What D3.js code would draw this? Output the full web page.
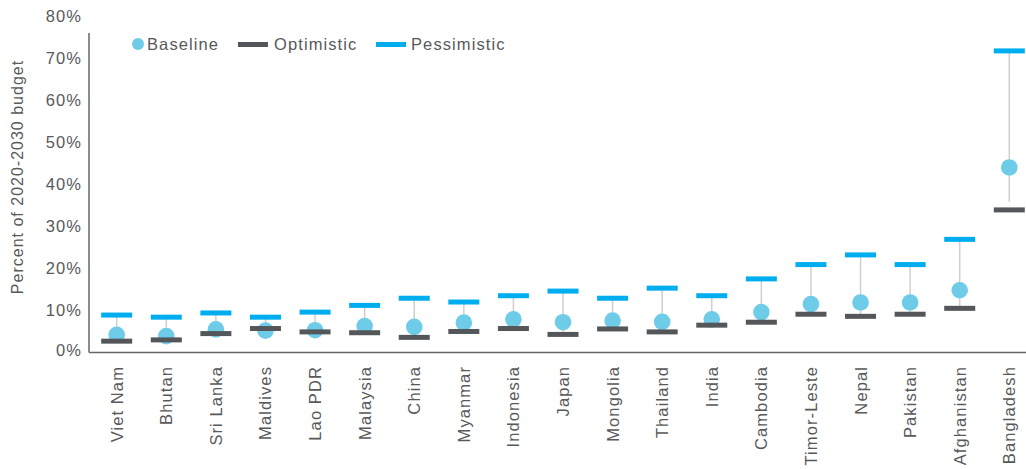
<!DOCTYPE html>
<html><head><meta charset="utf-8">
<script src="https://cdn.jsdelivr.net/npm/d3@7/dist/d3.min.js"></script>
<style>body{margin:0;background:#fff}svg{display:block}text{font-family:"Liberation Sans",Arial,sans-serif;fill:#58595b}</style>
</head><body><svg id="c" width="1026" height="469"></svg>
<script>
const countries = ["Viet Nam","Bhutan","Sri Lanka","Maldives","Lao PDR","Malaysia","China","Myanmar","Indonesia","Japan","Mongolia","Thailand","India","Cambodia","Timor-Leste","Nepal","Pakistan","Afghanistan","Bangladesh"];
const baseline    = [4.2,3.9,5.5,5.2,5.3,6.3,6.1,7.1,7.9,7.2,7.6,7.3,7.9,9.6,11.5,11.9,11.9,14.8,44.0];
const optimistic  = [2.7,3.0,4.5,5.7,4.9,4.7,3.6,5.0,5.7,4.3,5.6,4.9,6.5,7.2,9.1,8.6,9.1,10.5,33.9];
const pessimistic = [8.9,8.4,9.4,8.4,9.6,11.2,12.9,12.0,13.5,14.6,12.9,15.3,13.5,17.5,20.9,23.2,20.9,26.9,71.7];
const whiskerLow  = [2.7,3.0,4.5,5.7,4.9,4.7,3.6,5.0,5.7,4.3,5.6,4.9,6.5,7.2,9.1,8.6,9.1,10.5,35.8];
const yTicks = [0,10,20,30,40,50,60,70,80];

const svg = d3.select("#c");
const x = d3.scalePoint().domain(countries).range([116.7,1009.3]);
const y = d3.scaleLinear().domain([0,80]).range([352.5,16]);
const colBase="#6ecce9", colOpt="#54575a", colPes="#00aeef";
const capW=31, capH=5;
const FS="16.5px", LS="1.1px";

// axes lines
svg.append("line").attr("x1",89).attr("x2",89).attr("y1",33).attr("y2",y(0)).attr("stroke","#666").attr("stroke-width",1.5);
svg.append("line").attr("x1",89).attr("x2",1026).attr("y1",y(0)).attr("y2",y(0)).attr("stroke","#666").attr("stroke-width",1.5);

// y tick labels
svg.append("g").selectAll("text").data(yTicks).join("text")
  .attr("x",82).attr("y",d=>d===0?y(d)-2:y(d)).attr("dy","0.35em").attr("text-anchor","end")
  .style("font-size",FS).style("letter-spacing",LS).text(d=>d+"%");

// y title
svg.append("text").attr("transform","translate(23,177) rotate(-90)").attr("text-anchor","middle")
  .style("font-size","16px").style("letter-spacing","1px").text("Percent of 2020-2030 budget");

// x labels
svg.append("g").selectAll("text").data(countries).join("text")
  .attr("transform",d=>`translate(${x(d)+6},366) rotate(-90)`).attr("text-anchor","end")
  .style("font-size",FS).style("letter-spacing",LS).text(d=>d);

const idx = d3.range(countries.length);
// whiskers
svg.append("g").selectAll("line").data(idx).join("line")
  .attr("x1",i=>x(countries[i])).attr("x2",i=>x(countries[i]))
  .attr("y1",i=>y(pessimistic[i])).attr("y2",i=>y(whiskerLow[i]))
  .attr("stroke","#cfcfcf").attr("stroke-width",1.5);
// baseline circles
svg.append("g").selectAll("circle").data(idx).join("circle")
  .attr("cx",i=>x(countries[i])).attr("cy",i=>y(baseline[i])).attr("r",8.3).attr("fill",colBase);
// optimistic caps
svg.append("g").selectAll("rect").data(idx).join("rect")
  .attr("x",i=>x(countries[i])-capW/2).attr("y",i=>y(optimistic[i])-capH/2)
  .attr("width",capW).attr("height",capH).attr("fill",colOpt);
// pessimistic caps
svg.append("g").selectAll("rect").data(idx).join("rect")
  .attr("x",i=>x(countries[i])-capW/2).attr("y",i=>y(pessimistic[i])-capH/2)
  .attr("width",capW).attr("height",capH).attr("fill",colPes);

// legend
const lg = svg.append("g");
lg.append("circle").attr("cx",138).attr("cy",44).attr("r",6).attr("fill",colBase);
lg.append("text").attr("x",147).attr("y",44).attr("dy","0.35em").style("font-size",FS).style("letter-spacing",LS).text("Baseline");
lg.append("rect").attr("x",238).attr("y",42).attr("width",30).attr("height",5).attr("fill",colOpt);
lg.append("text").attr("x",274).attr("y",44).attr("dy","0.35em").style("font-size",FS).style("letter-spacing",LS).text("Optimistic");
lg.append("rect").attr("x",376).attr("y",42).attr("width",30).attr("height",5).attr("fill",colPes);
lg.append("text").attr("x",411).attr("y",44).attr("dy","0.35em").style("font-size",FS).style("letter-spacing",LS).text("Pessimistic");
</script></body></html>
